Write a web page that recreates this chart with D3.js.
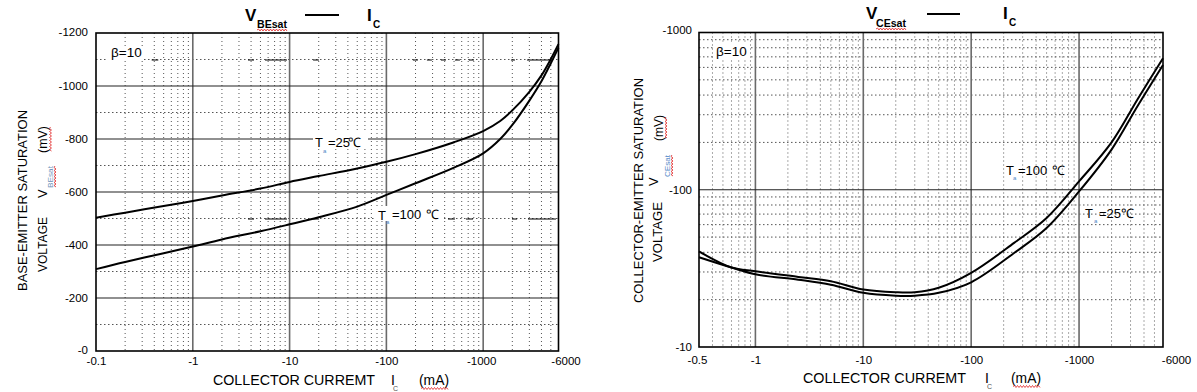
<!DOCTYPE html>
<html><head><meta charset="utf-8">
<script src="https://cdn.jsdelivr.net/npm/d3@7"></script>
<style>
body{margin:0;background:#fff}
svg{display:block}
text{font-family:"Liberation Sans",Arial,sans-serif;fill:#000}
</style>
</head><body>
<svg id="c" width="1197" height="392"></svg>
<script>
// ---------------- DATA ----------------
// Left chart: VBEsat vs IC (mA), values are magnitudes in mV (negative on the chart)
const leftCurrent = [0.1, 0.2, 0.5, 1, 2, 5, 10, 20, 50, 100, 200, 500, 1000, 1500, 2000, 3000, 4000, 5000, 6000];
const leftVbe25   = [503, 522, 547, 566, 587, 613, 638, 660, 689, 714, 743, 788, 830, 868, 908, 978, 1040, 1102, 1158];
const leftVbe100  = [309, 336, 369, 394, 421, 452, 478, 505, 545, 589, 633, 692, 746, 800, 853, 945, 1018, 1086, 1145];
const leftXTicks = [0.1, 1, 10, 100, 1000, 6000];
const leftXTickLabels = ["-0.1", "-1", "-10", "-100", "-1000", "-6000"];
const leftYTicks = [0, 200, 400, 600, 800, 1000, 1200];
const leftYTickLabels = ["-0", "-200", "-400", "-600", "-800", "-1000", "-1200"];
// short solid/dashed fragments visible on the left chart's dotted lines: [mV, from mA, to mA, dashed]
const leftGridFragments = [
  [1100, 0.376, 0.44, 0], [1100, 3.72, 4.29, 0], [1100, 5.57, 9.4, 0], [1100, 17.5, 20.1, 0],
  [1100, 188, 863, 1], [1100, 1936, 2130, 0], [1100, 2833, 5140, 0],
  [500, 3.72, 4.29, 0], [500, 5.57, 9.4, 0], [500, 17.5, 20.1, 0],
  [500, 433, 511, 0], [500, 664, 785, 0], [500, 1985, 2240, 0], [500, 2904, 5650, 0]
];

// Right chart: VCEsat vs IC (mA), magnitudes in mV
const rightCurrent = [0.3, 0.6, 1, 2.5, 5, 10, 20, 30, 50, 100, 250, 500, 1000, 2000, 3500, 6000];
const rightVce100  = [40.5, 32.0, 30.3, 27.9, 26.2, 23.2, 22.3, 22.3, 23.8, 29.6, 45.9, 66.1, 113, 200, 378, 686];
const rightVce25   = [37.2, 32.0, 29.0, 26.8, 24.9, 22.1, 21.2, 21.2, 22.1, 25.8, 39.6, 57.1, 97.5, 180, 342, 622];
const rightXTicks = [0.3, 1, 10, 100, 1000, 6000];
const rightXTickLabels = ["-0.5", "-1", "-10", "-100", "-1000", "-6000"];
const rightYTicks = [10, 100, 1000];
const rightYTickLabels = ["-10", "-100", "-1000"];

// ---------------- DRAWING ----------------
const svg = d3.select("#c");
const BLUE = "#4f86c6";
const RED = "#e02020";

function minorLog(lo, hi) {
  const out = [];
  let d = Math.pow(10, Math.floor(Math.log10(lo)));
  for (; d < hi; d *= 10) {
    for (let k = 2; k <= 9; k++) {
      const v = +(d * k).toPrecision(6);
      if (v > lo * 1.001 && v < hi * 0.999) out.push(v);
    }
  }
  return out;
}

function wavyH(x1, x2, y) {
  let p = `M${x1},${y}`; let up = true;
  for (let x = x1 + 1.5; x <= x2; x += 1.5) { p += `L${x},${y + (up ? -1 : 1)}`; up = !up; }
  svg.append("path").attr("d", p).attr("fill", "none").attr("stroke", RED).attr("stroke-width", 0.8);
}
function wavyV(x, y1, y2) {
  let p = `M${x},${y1}`; let up = true;
  for (let y = y1 + 1.5; y <= y2; y += 1.5) { p += `L${x + (up ? -1 : 1)},${y}`; up = !up; }
  svg.append("path").attr("d", p).attr("fill", "none").attr("stroke", RED).attr("stroke-width", 0.8);
}
function txt(x, y, s, size, opts = {}) {
  const t = svg.append("text").attr("x", x).attr("y", y).attr("font-size", size).text(s);
  if (opts.bold) t.attr("font-weight", "bold");
  if (opts.fill) t.style("fill", opts.fill);
  if (opts.anchor) t.attr("text-anchor", opts.anchor);
  if (opts.len) t.attr("textLength", opts.len).attr("lengthAdjust", "spacingAndGlyphs");
  return t;
}
function vtxt(x, y, s, size, opts = {}) {
  const t = svg.append("text").attr("transform", `translate(${x},${y}) rotate(-90)`).attr("font-size", size).text(s);
  if (opts.fill) t.style("fill", opts.fill);
  if (opts.anchor) t.attr("text-anchor", opts.anchor);
  if (opts.len) t.attr("textLength", opts.len).attr("lengthAdjust", "spacingAndGlyphs");
  return t;
}

function drawChart(c) {
  const g = svg.append("g");
  const [x0, x1] = c.x.range();
  const [y0, y1] = c.y.range(); // y0 bottom, y1 top
  // minor dotted grid
  c.minorX.forEach(v => g.append("line").attr("x1", c.x(v)).attr("x2", c.x(v)).attr("y1", y1).attr("y2", y0)
    .attr("stroke", "#555").attr("stroke-width", 1).attr("stroke-dasharray", "1,3"));
  c.minorY.forEach(v => g.append("line").attr("x1", x0).attr("x2", x1).attr("y1", c.y(v)).attr("y2", c.y(v))
    .attr("stroke", "#555").attr("stroke-width", 1).attr("stroke-dasharray", "1.5,2.5"));
  // major grid
  c.majorX.forEach(v => g.append("line").attr("x1", c.x(v)).attr("x2", c.x(v)).attr("y1", y1).attr("y2", y0)
    .attr("stroke", "#6a6a6a").attr("stroke-width", 1.6));
  c.majorY.forEach(v => g.append("line").attr("x1", x0).attr("x2", x1).attr("y1", c.y(v)).attr("y2", c.y(v))
    .attr("stroke", "#222").attr("stroke-width", 1.2));
  // label backgrounds
  (c.bgs || []).forEach(b => g.append("rect").attr("x", b[0]).attr("y", b[1]).attr("width", b[2]).attr("height", b[3]).attr("fill", "#fff"));
  // grid fragments
  (c.fragments || []).forEach(f => g.append("line").attr("x1", c.x(f[1])).attr("x2", c.x(f[2]))
    .attr("y1", c.y(f[0]) + 0.5).attr("y2", c.y(f[0]) + 0.5).attr("stroke", "#000").attr("stroke-width", 1)
    .attr("stroke-dasharray", f[3] ? "5,9" : null));
  // frame
  g.append("rect").attr("x", x0).attr("y", y1).attr("width", x1 - x0).attr("height", y0 - y1)
    .attr("fill", "none").attr("stroke", "#000").attr("stroke-width", 1.6);
  // curves
  const line = d3.line().x(d => c.x(d[0])).y(d => c.y(d[1])).curve(d3.curveCatmullRom.alpha(0.5));
  c.series.forEach(s => {
    g.append("path").datum(c.current.map((v, i) => [v, s[i]])).attr("d", line)
      .attr("fill", "none").attr("stroke", "#000").attr("stroke-width", 2);
  });
  // axes
  const ax = d3.axisBottom(c.x).tickValues(c.xTicks).tickFormat((d, i) => c.xLabels[i]).tickSize(0).tickPadding(c.xPad);
  const axg = svg.append("g").attr("transform", `translate(0,${y0})`).call(ax);
  axg.select(".domain").remove();
  axg.selectAll("text").attr("font-size", 11.5).attr("font-family", '"Liberation Sans",Arial,sans-serif')
    .attr("dx", (d, i) => c.xDx[i]);
  const ay = d3.axisLeft(c.y).tickValues(c.yTicks).tickFormat((d, i) => c.yLabels[i]).tickSize(0).tickPadding(c.yPad);
  const ayg = svg.append("g").attr("transform", `translate(${x0},0)`).call(ay);
  ayg.select(".domain").remove();
  ayg.selectAll("text").attr("font-size", 11.5).attr("font-family", '"Liberation Sans",Arial,sans-serif')
    .attr("dy", (d, i) => c.yDy[i]);
}

// ---- Left chart ----
const xL = d3.scaleLog().domain([0.1, 6000]).range([96, 558.5]);
const yL = d3.scaleLinear().domain([0, 1200]).range([351, 33]);
drawChart({
  x: xL, y: yL, current: leftCurrent, series: [leftVbe25, leftVbe100],
  minorX: minorLog(0.1, 6000), minorY: [100, 300, 500, 700, 900, 1100],
  majorX: [1, 10, 100, 1000], majorY: [200, 400, 600, 800, 1000],
  xTicks: leftXTicks, xLabels: leftXTickLabels, xPad: 6, xDx: [0, 0, 0, 0, -2, 7],
  yTicks: leftYTicks, yLabels: leftYTickLabels, yPad: 8, yDy: ["0.2em","0.32em","0.32em","0.32em","0.32em","0.32em","0.22em"],
  bgs: [[108, 46, 36, 14], [313, 133, 55, 14], [376, 206, 68, 15]],
  fragments: leftGridFragments
});

// ---- Right chart ----
const xR = d3.scaleLog().domain([0.3, 6000]).range([699, 1163]);
const yR = d3.scaleLog().domain([10, 1000]).range([347, 32.5]);
drawChart({
  x: xR, y: yR, current: rightCurrent, series: [rightVce100, rightVce25],
  minorX: minorLog(0.3, 6000), minorY: [20, 30, 40, 50, 60, 70, 80, 90, 200, 300, 400, 500, 600, 700, 800, 900],
  majorX: [1, 10, 100, 1000], majorY: [100],
  xTicks: rightXTicks, xLabels: rightXTickLabels, xPad: 9, xDx: [-2, 0, 0, 0, 0, 13],
  yTicks: rightYTicks, yLabels: rightYTickLabels, yPad: 7, yDy: ["0.32em", "0.32em", "0.1em"],
  bgs: [[713, 44, 37, 14]]
});

// ---- Titles ----
txt(245, 21, "V", 17, {bold: true});
txt(257, 28, "BEsat", 11, {bold: true, len: 30});
wavyH(257, 287, 30);
svg.append("line").attr("x1", 305).attr("x2", 339).attr("y1", 15).attr("y2", 15).attr("stroke", "#000").attr("stroke-width", 2);
txt(367, 21, "I", 17, {bold: true});
txt(373, 28, "C", 10, {bold: true});

txt(866, 19, "V", 17, {bold: true});
txt(876, 27, "CEsat", 11, {bold: true, len: 30});
wavyH(876, 906, 29);
svg.append("line").attr("x1", 927).attr("x2", 960).attr("y1", 14).attr("y2", 14).attr("stroke", "#000").attr("stroke-width", 2);
txt(1003, 19, "I", 17, {bold: true});
txt(1009, 26, "C", 10, {bold: true});

// ---- Annotations ----
txt(111, 57, "β=10", 13.5);
txt(315, 147, "T", 13); txt(323, 153, "a", 6, {fill: BLUE}); txt(328, 147, "=25", 13); txt(348, 147, "℃", 13);
txt(378, 220, "T", 13); txt(386, 224, "a", 6, {fill: BLUE}); txt(392, 219, "=100", 13); txt(426, 219, "℃", 13);

txt(716, 56, "β=10", 13.5);
txt(1006, 175, "T", 13); txt(1013, 180, "a", 6, {fill: BLUE}); txt(1018, 175, "=100", 13); txt(1052, 175, "℃", 13);
txt(1085, 218, "T", 13); txt(1094, 223, "a", 6, {fill: BLUE}); txt(1099, 218, "=25", 13); txt(1121, 218, "℃", 13);

// ---- Axis titles ----
txt(213, 385, "COLLECTOR CURREMT", 14, {len: 162});
txt(391, 385, "I", 14);
txt(393, 391, "C", 7, {fill: "#555"});
txt(419, 385, "(mA)", 14, {len: 30});
wavyH(421, 448, 388.5);

txt(803, 383, "COLLECTOR CURREMT", 14, {len: 163});
txt(985, 383, "I", 14);
txt(987, 389, "C", 7, {fill: "#555"});
txt(1011, 383, "(mA)", 14, {len: 30});
wavyH(1013, 1040, 386.5);

vtxt(27, 291, "BASE-EMITTER SATURATION", 13, {len: 181});
vtxt(47, 272, "VOLTAGE", 13, {len: 55});
vtxt(47, 198, "V", 13);
vtxt(53, 188, "BEsat", 7, {fill: "#6b8fb8", len: 22});
wavyV(55, 166, 187);
vtxt(47, 153, "(mV)", 13, {len: 27});
wavyV(50.5, 127, 152);

vtxt(643, 303, "COLLECTOR-EMITTER SATURATION", 13, {len: 225});
vtxt(662, 262, "VOLTAGE", 13, {len: 60});
vtxt(658, 186, "V", 13);
vtxt(670, 177, "CEsat", 7, {fill: BLUE, len: 22});
wavyV(672, 155, 177);
vtxt(663, 141, "(mV)", 13, {len: 26});
wavyV(666, 117, 138);
</script>
</body></html>
